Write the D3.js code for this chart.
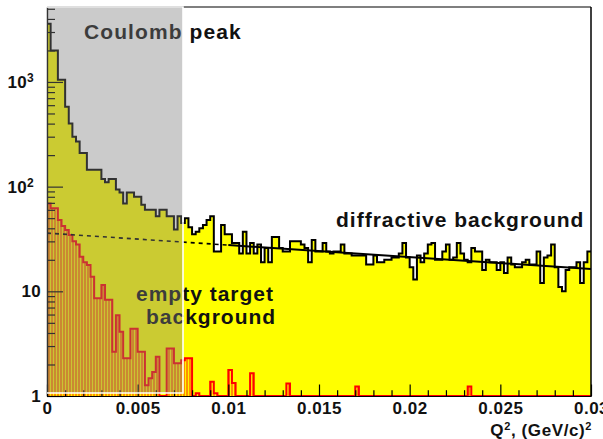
<!DOCTYPE html>
<html>
<head>
<meta charset="utf-8">
<script src="https://cdn.jsdelivr.net/npm/d3@7"></script>
<style>
  html, body { margin: 0; padding: 0; background: #fff; }
  svg { display: block; }
  text { font-family: "Liberation Sans", Arial, Helvetica, sans-serif; font-weight: bold; fill: #111; }
</style>
</head>
<body>
<svg id="chart" width="603" height="439"></svg>
<script>
// Q^2 binning: 150 bins of 0.0002 (GeV/c)^2 between 0 and 0.03
const binLow = 0;
const binWidth = 0.0002;

// All events per bin
const totalCounts = [
  3600, 2000, 2000, 1050, 1050, 580, 400, 300, 270, 210,
  210, 145, 145, 145, 145, 118, 110, 118, 118, 94,
  88, 69, 88, 88, 80, 80, 67, 60, 60, 60,
  52, 60, 60, 52, 52, 39, 52, 45, 50, 41,
  35, 37, 40, 43, 48, 52, 24, 24, 43, 35,
  35, 29, 29, 23, 37, 23, 29, 23, 28, 19,
  26, 19, 33, 33, 26, 24, 24, 30, 30, 30,
  28, 26, 19, 31, 24, 24, 29, 24, 23, 24,
  24, 28, 23, 23, 22, 22, 22, 22, 18, 18,
  22, 19, 19, 20, 20, 21, 21, 23, 29, 21,
  17, 13, 22, 19, 23, 28, 29, 20, 20, 24,
  28, 20, 21, 29, 23, 20, 19, 26, 24, 24,
  16, 20, 19, 19, 16, 19, 15, 21, 18, 17,
  17, 19, 20, 18, 18, 24, 12, 21, 22, 28,
  17, 11, 10, 16, 17, 17, 19, 12, 19, 24
];

// Empty-target events per bin (normalised)
const emptyTargetCounts = [
  69, 62, 62, 48, 42, 38.5, 34.5, 30, 28, 21.4,
  19, 17.8, 13.8, 8.6, 8.6, 11.5, 8.3, 8.3, 2.65, 5.9,
  4.1, 2.3, 2.3, 4.4, 4.4, 2.65, 2.65, 1.27, 1.48, 1.7,
  2.37, 0, 0, 2.85, 2.85, 2.05, 2.05, 2.2, 2.3, 2.3,
  0, 1.06, 0, 0, 0, 1.37, 1.06, 0, 0, 0,
  1.77, 1.33, 0, 0, 0, 0, 1.65, 0, 0, 0,
  0, 0, 0, 0, 0, 0, 1.32, 0, 0, 0,
  0, 0, 0, 0, 0, 0, 0, 0, 0, 0,
  0, 0, 0, 0, 0, 1.23, 0, 0, 0, 0,
  0, 0, 0, 0, 0, 0, 0, 0, 0, 0,
  0, 0, 0, 0, 0, 0, 0, 0, 0, 0,
  0, 0, 0, 0, 0, 0, 1.23, 0, 0, 0,
  0, 0, 0, 0, 0, 0, 0, 0, 0, 0,
  0, 0, 0, 0, 0, 0, 0, 0, 0, 0,
  0, 0, 0, 0, 0, 0, 0, 0, 0, 0
];

// Exponential fit of the diffractive background: A * exp(b * Q^2)
const fitNorm = 36;
const fitSlope = -26.4;
const fitRange = [0.01, 0.03];
const coulombRange = [0, 0.0075];

const xMajorTicks = [0, 0.005, 0.01, 0.015, 0.02, 0.025, 0.03];
const xTickLabels = ["0", "0.005", "0.01", "0.015", "0.02", "0.025", "0.03"];
const yMajorTicks = [1, 10, 100, 1000];
const yTickBase = ["1", "10", "10", "10"];
const yTickExp = ["", "", "2", "3"];

// ---------- layout ----------
const plot = { left: 47, right: 591, top: 7, bottom: 396 };
const yMin = 1, yMax = 5200;

const svg = d3.select("#chart");
svg.append("rect").attr("width", 603).attr("height", 439).attr("fill", "#fff");

const x = d3.scaleLinear().domain([0, 0.03]).range([plot.left, plot.right]);
const y = d3.scaleLog().domain([yMin, yMax]).range([plot.bottom, plot.top]).clamp(true);

const defs = svg.append("defs");
const hatch = defs.append("pattern")
  .attr("id", "hatch").attr("patternUnits", "userSpaceOnUse")
  .attr("width", 3).attr("height", 10);
hatch.append("rect").attr("width", 2.1).attr("height", 10).attr("fill", "#ff9000");

defs.append("clipPath").attr("id", "frameClip")
  .append("rect").attr("x", plot.left).attr("y", plot.top)
  .attr("width", plot.right - plot.left).attr("height", plot.bottom - plot.top);

function binPoints(counts) {
  const pts = counts.map((v, i) => ({ q: binLow + i * binWidth, v: v }));
  pts.push({ q: binLow + counts.length * binWidth, v: counts[counts.length - 1] });
  return pts;
}
const yv = d => y(Math.max(d.v, yMin));

const stepArea = d3.area().curve(d3.curveStepAfter)
  .x(d => x(d.q)).y0(plot.bottom).y1(yv);
const stepLine = d3.line().curve(d3.curveStepAfter)
  .x(d => x(d.q)).y(yv);

const g = svg.append("g").attr("clip-path", "url(#frameClip)");

// total histogram
const totalPts = binPoints(totalCounts);
g.append("path").attr("d", stepArea(totalPts)).attr("fill", "#ffff00");
g.append("path").attr("d", stepLine(totalPts))
  .attr("fill", "none").attr("stroke", "#000").attr("stroke-width", 2);

// empty target histogram
const emptyPts = binPoints(emptyTargetCounts);
g.append("path").attr("d", stepArea(emptyPts)).attr("fill", "url(#hatch)");
g.append("path").attr("d", stepLine(emptyPts))
  .attr("fill", "none").attr("stroke", "#ff0000").attr("stroke-width", 2);

// diffractive fit: extrapolated (dashed) and fitted (solid) parts
const fitVal = q => fitNorm * Math.exp(fitSlope * q);
const fitLine = d3.line().x(q => x(q)).y(q => y(fitVal(q)));
g.append("path").attr("d", fitLine([0, fitRange[0]]))
  .attr("fill", "none").attr("stroke", "#000").attr("stroke-width", 1.6)
  .attr("stroke-dasharray", "4,4");
g.append("path").attr("d", fitLine(fitRange))
  .attr("fill", "none").attr("stroke", "#000").attr("stroke-width", 2);

// ---------- axes ----------
const xMinor = d3.range(0, 31).map(i => i * 0.001).filter(v => !xMajorTicks.some(t => Math.abs(t - v) < 1e-9));
const yMinor = [];
[1, 10, 100, 1000].forEach(dec => { for (let k = 2; k <= 9; k++) if (dec * k < yMax) yMinor.push(dec * k); });

const axisStyle = sel => {
  sel.selectAll("path.domain").attr("stroke", "#000").attr("stroke-width", 1.2);
  sel.selectAll(".tick line").attr("stroke", "#000").attr("stroke-width", 1.2);
};

svg.append("g").attr("transform", `translate(0,${plot.bottom})`)
  .call(d3.axisBottom(x).tickValues(xMinor).tickSizeInner(-5.8).tickSizeOuter(0).tickFormat(""))
  .call(axisStyle);
const xAx = svg.append("g").attr("transform", `translate(0,${plot.bottom})`)
  .call(d3.axisBottom(x).tickValues(xMajorTicks).tickSizeInner(-11.5).tickSizeOuter(0)
    .tickPadding(6).tickFormat((d, i) => xTickLabels[i]))
  .call(axisStyle);
xAx.selectAll(".tick text").attr("font-size", 17).attr("letter-spacing", 0.5)
  .attr("font-family", "Liberation Sans, Arial, sans-serif").attr("font-weight", "bold").attr("fill", "#111");

svg.append("g").attr("transform", `translate(${plot.left},0)`)
  .call(d3.axisLeft(y).tickValues(yMinor).tickSizeInner(-8).tickSizeOuter(0).tickFormat(""))
  .call(axisStyle);
const yAx = svg.append("g").attr("transform", `translate(${plot.left},0)`)
  .call(d3.axisLeft(y).tickValues(yMajorTicks).tickSizeInner(-16).tickSizeOuter(0)
    .tickPadding(6).tickFormat((d, i) => yTickBase[i]))
  .call(axisStyle);
yAx.selectAll(".tick text")
  .attr("font-size", 17).attr("letter-spacing", 0.3)
  .attr("font-family", "Liberation Sans, Arial, sans-serif").attr("font-weight", "bold").attr("fill", "#111")
  .each(function (d, i) {
    if (yTickExp[i]) {
      const t = d3.select(this);
      t.attr("x", -13);
      t.append("tspan").attr("dy", "-0.45em").attr("font-size", 12).text(yTickExp[i]);
    }
  });

// frame top and right
svg.append("line").attr("x1", plot.left).attr("x2", plot.right).attr("y1", plot.top).attr("y2", plot.top)
  .attr("stroke", "#000").attr("stroke-width", 1.2);
svg.append("line").attr("x1", plot.right).attr("x2", plot.right).attr("y1", plot.top).attr("y2", plot.bottom)
  .attr("stroke", "#000").attr("stroke-width", 1.5);

// axis title
const xt = svg.append("text").attr("x", plot.right + 1).attr("y", 436)
  .attr("text-anchor", "end").attr("font-size", 17).attr("letter-spacing", 0.6);
xt.append("tspan").text("Q");
xt.append("tspan").attr("dy", -6).attr("font-size", 11).text("2");
xt.append("tspan").attr("dy", 6).text(", (GeV/c)");
xt.append("tspan").attr("dy", -6).attr("font-size", 11).text("2");

// annotations
svg.append("text").attr("x", 84).attr("y", 38.5).attr("font-size", 21).attr("letter-spacing", 1.1)
  .text("Coulomb peak");
svg.append("text").attr("x", 336).attr("y", 226.5).attr("font-size", 21).attr("letter-spacing", 1)
  .text("diffractive background");
svg.append("text").attr("x", 136).attr("y", 300.5).attr("font-size", 21).attr("letter-spacing", 1)
  .text("empty target");
svg.append("text").attr("x", 146).attr("y", 324).attr("font-size", 21).attr("letter-spacing", 1)
  .text("background");

// Coulomb peak region: translucent grey band with a white edge
const cx0 = x(coulombRange[0]), cx1 = x(coulombRange[1]);
const cyBottom = plot.bottom - 3;
svg.append("rect").attr("x", cx0).attr("y", plot.top)
  .attr("width", cx1 - cx0).attr("height", cyBottom - plot.top)
  .attr("fill", "rgb(126,126,126)").attr("fill-opacity", 0.4);
svg.append("path")
  .attr("d", `M${cx0},${plot.top}H${cx1}V${cyBottom}H${cx0}`)
  .attr("fill", "none").attr("stroke", "#fff").attr("stroke-width", 1.6);
</script>
</body>
</html>
